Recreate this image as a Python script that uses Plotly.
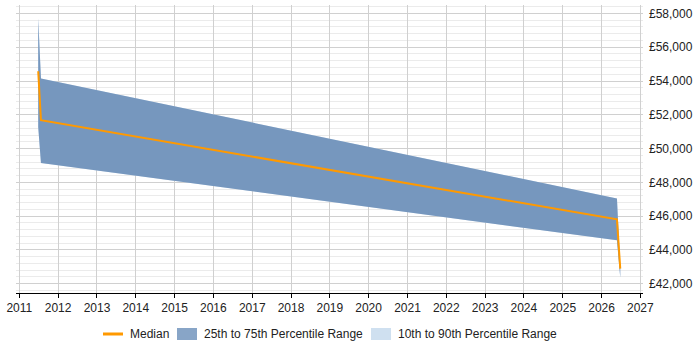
import plotly.graph_objects as go

# Data
dates = ["2011-06-28", "2011-07-24", "2026-05-26", "2026-06-26"]
median = [54580, 51680, 45810, 42890]
p25 = [51280, 49150, 44570, 42350]
p75 = [57700, 54150, 47040, 42950]
p10 = [51280, 49150, 44570, 42350]
p90 = [57700, 54150, 47040, 42950]

y_ticks = [42000, 44000, 46000, 48000, 50000, 52000, 54000, 56000, 58000]
y_tick_labels = ["£42,000", "£44,000", "£46,000", "£48,000", "£50,000",
                 "£52,000", "£54,000", "£56,000", "£58,000"]
x_ticks = [f"{y}-01-01" for y in range(2011, 2028)]
x_tick_labels = [str(y) for y in range(2011, 2028)]

legend_names = ["Median", "25th to 75th Percentile Range", "10th to 90th Percentile Range"]

FONT = "Liberation Sans, Arial, sans-serif"
MEDIAN_COLOR = "#FF9900"
IQR_COLOR = "rgba(95,133,178,0.8)"
IDR_COLOR = "rgb(207,224,240)"
IQR_SWATCH = "rgb(136,165,199)"

W, H = 700, 350
ML, MR, MT, MB = 16, 57, 5, 57
PW, PH = W - ML - MR, H - MT - MB


def px(x):
    return (x - ML) / PW


def py(y):
    return (H - MB - y) / PH


fig = go.Figure()

# 10th-90th band
fig.add_trace(go.Scatter(x=dates, y=p10, mode="lines", line=dict(width=0),
                         showlegend=False, hoverinfo="skip"))
fig.add_trace(go.Scatter(x=dates, y=p90, mode="lines", line=dict(width=0),
                         fill="tonexty", fillcolor=IDR_COLOR,
                         name=legend_names[2], showlegend=False))
# 25th-75th band
fig.add_trace(go.Scatter(x=dates, y=p25, mode="lines", line=dict(width=0),
                         showlegend=False, hoverinfo="skip"))
fig.add_trace(go.Scatter(x=dates, y=p75, mode="lines", line=dict(width=0),
                         fill="tonexty", fillcolor=IQR_COLOR,
                         name=legend_names[1], showlegend=False))
# Median
fig.add_trace(go.Scatter(x=dates, y=median, mode="lines",
                         line=dict(color=MEDIAN_COLOR, width=2),
                         name=legend_names[0], showlegend=False))

# Manual legend (positions in pixels converted to paper coords)
shapes = [
    dict(type="line", xref="paper", yref="paper",
         x0=px(103), x1=px(123), y0=py(334), y1=py(334),
         line=dict(color=MEDIAN_COLOR, width=3)),
    dict(type="rect", xref="paper", yref="paper",
         x0=px(177), x1=px(197), y0=py(340), y1=py(328),
         line=dict(width=0), fillcolor=IQR_SWATCH),
    dict(type="rect", xref="paper", yref="paper",
         x0=px(371), x1=px(391), y0=py(340), y1=py(328),
         line=dict(width=0), fillcolor=IDR_COLOR),
]
annotations = [
    dict(text=legend_names[0], xref="paper", yref="paper", x=px(128), y=py(334),
         xanchor="left", yanchor="middle", showarrow=False),
    dict(text=legend_names[1], xref="paper", yref="paper", x=px(202), y=py(334),
         xanchor="left", yanchor="middle", showarrow=False),
    dict(text=legend_names[2], xref="paper", yref="paper", x=px(396), y=py(334),
         xanchor="left", yanchor="middle", showarrow=False),
]

fig.update_layout(
    width=W, height=H,
    margin=dict(l=ML, r=MR, t=MT, b=MB),
    paper_bgcolor="white", plot_bgcolor="white",
    font=dict(family=FONT, size=12, color="#222"),
    showlegend=False,
    shapes=shapes,
    annotations=annotations,
    xaxis=dict(
        type="date",
        range=["2010-12-01", "2027-01-26"],
        tickmode="array", tickvals=x_ticks, ticktext=x_tick_labels,
        showgrid=True, gridcolor="#d0d0d0", gridwidth=1,
        showline=True, linecolor="#000", linewidth=1,
        ticks="outside", ticklen=4, tickcolor="#000",
        zeroline=False,
    ),
    yaxis=dict(
        side="right",
        range=[41450, 58500],
        tickmode="array", tickvals=y_ticks, ticktext=y_tick_labels,
        ticklabelstandoff=5,
        showgrid=True, gridcolor="#d0d0d0", gridwidth=1,
        minor=dict(dtick=400, showgrid=True, gridcolor="#ebebeb", gridwidth=1),
        showline=False, zeroline=False, ticks="",
    ),
)

fig.write_html("out.html")
